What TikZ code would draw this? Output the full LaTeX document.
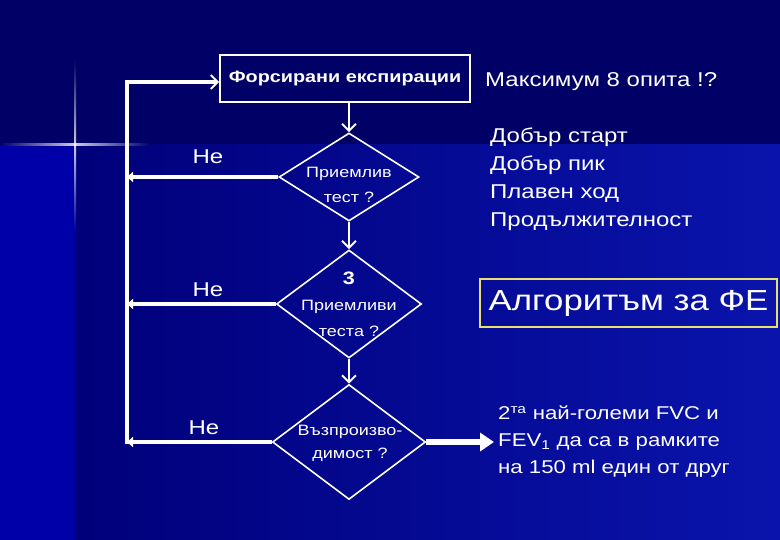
\documentclass[tikz,border=0pt]{standalone}
\usepackage{fontspec}
\setmainfont[FakeStretch=1.2]{Liberation Sans}
\usetikzlibrary{positioning, arrows.meta, shapes.geometric}
\definecolor{bgtop}{HTML}{000066}
\definecolor{bgleft}{HTML}{0000A8}
\definecolor{bgmid}{HTML}{00007A}
\definecolor{bgright}{HTML}{0A14AC}
\definecolor{algyellow}{HTML}{E8E070}
\tikzset{
    stepbox/.style={
        draw=white, rectangle, line width=1.6pt, minimum width=250pt, minimum height=47pt,
        font=\fontsize{16.5}{19}\selectfont\bfseries, text=white
    },
    decision/.style={draw=white, diamond, line width=1.6pt, inner sep=0pt},
    decisiontext/.style={align=center, text=white, inner sep=0pt},
    note/.style={text=white, align=left, anchor=west, inner sep=0pt},
    forward/.style={white, line width=2pt, -{Straight Barb[length=7pt, width=14pt, line width=2pt]}},
    loopback/.style={white, line width=4pt, -{Triangle[length=6pt, width=10pt]}},
    result/.style={white, line width=6pt, -{Triangle[length=14pt, width=18pt]}}
}

\begin{document}
\begin{tikzpicture}[x=1pt, y=-1pt]
    % background
    \useasboundingbox (0,0) rectangle (780,540);
    \fill[bgtop] (0,0) rectangle (780,145);
    \fill[bgleft] (0,145) rectangle (75,540);
    \shade[left color=bgmid, right color=bgright] (75,145) rectangle (780,540);
    \shade[left color=bgtop, right color=bgtop, middle color=white, opacity=0.8] (0,144) rectangle (150,146);
    \shade[top color=bgtop, bottom color=bgleft, middle color=white, opacity=0.8] (74,60) rectangle (76,230);

    % flow chart
    \node[stepbox] (forc) at (345,78.5) {Форсирани експирации};
    \node[decision, minimum width=140pt, minimum height=88pt] (test) at (349,177) {};
    \node[decision, minimum width=145pt, minimum height=108pt] (three) at (349,304) {};
    \node[decision, minimum width=153pt, minimum height=115pt] (repro) at (349,442) {};
    \node[decisiontext, font=\fontsize{15}{25}\selectfont] (testtxt) at (349,185) {Приемлив\\тест ?};
    \node[decisiontext, font=\fontsize{15}{26}\selectfont] (threetxt) at (349,304)
        {{\fontsize{18}{20}\selectfont\bfseries 3}\\Приемливи\\теста ?};
    \node[decisiontext, font=\fontsize{15}{23}\selectfont] (reprotxt) at (350,443)
        {Възпроизво-\\димост ?};

    \coordinate (looptop) at (127,82);
    \coordinate (loopbot) at (127,442);

    \node[text=white, font=\fontsize{20}{24}\selectfont] (no1) at (208,157) {Не};
    \node[text=white, font=\fontsize{20}{24}\selectfont] (no2) at (208,290) {Не};
    \node[text=white, font=\fontsize{20}{24}\selectfont] (no3) at (204,428) {Не};

    \draw[white, line width=4pt, line cap=rect] (loopbot) -- (looptop);
    \draw[forward, line width=4pt] (looptop) -- (looptop -| forc.west);
    \draw[forward] (forc.south -| test.north) -- (test.north);
    \draw[forward] (test.south) -- (three.north);
    \draw[forward] (three.south) -- (repro.north);
    \draw[loopback] (test.west) -- (test.west -| looptop);
    \draw[loopback] (three.west) -- (three.west -| looptop);
    \draw[loopback] (repro.west) -- (loopbot);

    % notes on the right
    \node[note, font=\fontsize{20}{24}\selectfont] (maxtry) at (485,82) {Максимум 8 опита !?};
    \node[note, font=\fontsize{20}{28}\selectfont] (criteria) at (490,179)
        {Добър старт\\Добър пик\\Плавен ход\\Продължителност};
    \node[draw=algyellow, line width=1.5pt, rectangle, minimum width=297pt, minimum height=48pt,
        text=white, font=\fontsize{29}{34}\selectfont] (algo) at (628.5,303) {Алгоритъм за ФЕ};
    \node[note, font=\fontsize{18.5}{27}\selectfont, inner sep=4pt] (within) at (494,442)
        {2\textsuperscript{та} най-големи FVC и\\FEV\textsubscript{1} да са в рамките\\на 150 ml един от друг};

    \draw[result] (repro.east) -- (within.west);
\end{tikzpicture}
\end{document}
